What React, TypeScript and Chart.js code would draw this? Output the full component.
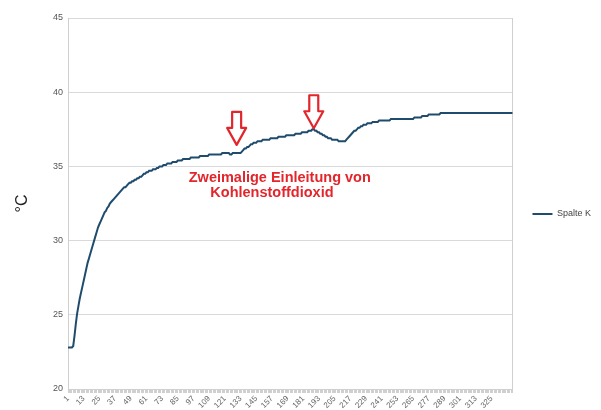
import React, { useEffect, useRef } from "react";
import { Chart, registerables } from "chart.js";

Chart.register(...registerables);

const seriesName = "Spalte K";

// temperature readings (°C), one per measurement index 1..341
const values: number[] = [
  22.8, 22.8, 22.8, 22.8, 22.9, 23.6, 24.4, 25.1, 25.6, 26.1,
  26.5, 26.9, 27.3, 27.7, 28.1, 28.5, 28.8, 29.1, 29.4, 29.7,
  30.0, 30.3, 30.6, 30.9, 31.1, 31.3, 31.5, 31.7, 31.9, 32.0,
  32.2, 32.3, 32.5, 32.6, 32.7, 32.8, 32.9, 33.0, 33.1, 33.2,
  33.3, 33.4, 33.5, 33.6, 33.6, 33.7, 33.8, 33.9, 33.9, 34.0,
  34.0, 34.1, 34.1, 34.2, 34.2, 34.3, 34.3, 34.4, 34.5, 34.5,
  34.6, 34.6, 34.7, 34.7, 34.7, 34.8, 34.8, 34.8, 34.9, 34.9,
  35.0, 35.0, 35.0, 35.1, 35.1, 35.1, 35.2, 35.2, 35.2, 35.2,
  35.3, 35.3, 35.3, 35.3, 35.4, 35.4, 35.4, 35.4, 35.5, 35.5,
  35.5, 35.5, 35.5, 35.5, 35.6, 35.6, 35.6, 35.6, 35.6, 35.6,
  35.6, 35.7, 35.7, 35.7, 35.7, 35.7, 35.7, 35.7, 35.8, 35.8,
  35.8, 35.8, 35.8, 35.8, 35.8, 35.8, 35.8, 35.8, 35.9, 35.9,
  35.9, 35.9, 35.9, 35.9, 35.8, 35.8, 35.9, 35.9, 35.9, 35.9,
  35.9, 35.9, 35.9, 36.0, 36.1, 36.2, 36.2, 36.3, 36.3, 36.4,
  36.5, 36.5, 36.6, 36.6, 36.6, 36.7, 36.7, 36.7, 36.7, 36.8,
  36.8, 36.8, 36.8, 36.8, 36.8, 36.9, 36.9, 36.9, 36.9, 36.9,
  36.9, 37.0, 37.0, 37.0, 37.0, 37.0, 37.0, 37.1, 37.1, 37.1,
  37.1, 37.1, 37.1, 37.1, 37.2, 37.2, 37.2, 37.2, 37.2, 37.3,
  37.3, 37.3, 37.3, 37.3, 37.4, 37.4, 37.4, 37.5, 37.5, 37.4,
  37.4, 37.3, 37.3, 37.2, 37.2, 37.1, 37.1, 37.0, 37.0, 36.9,
  36.9, 36.9, 36.8, 36.8, 36.8, 36.8, 36.8, 36.7, 36.7, 36.7,
  36.7, 36.7, 36.7, 36.8, 36.9, 37.0, 37.1, 37.2, 37.3, 37.4,
  37.4, 37.5, 37.6, 37.6, 37.7, 37.7, 37.8, 37.8, 37.8, 37.9,
  37.9, 37.9, 37.9, 38.0, 38.0, 38.0, 38.0, 38.0, 38.1, 38.1,
  38.1, 38.1, 38.1, 38.1, 38.1, 38.1, 38.1, 38.2, 38.2, 38.2,
  38.2, 38.2, 38.2, 38.2, 38.2, 38.2, 38.2, 38.2, 38.2, 38.2,
  38.2, 38.2, 38.2, 38.2, 38.2, 38.3, 38.3, 38.3, 38.3, 38.3,
  38.3, 38.4, 38.4, 38.4, 38.4, 38.4, 38.5, 38.5, 38.5, 38.5,
  38.5, 38.5, 38.5, 38.5, 38.5, 38.6, 38.6, 38.6, 38.6, 38.6,
  38.6, 38.6, 38.6, 38.6, 38.6, 38.6, 38.6, 38.6, 38.6, 38.6,
  38.6, 38.6, 38.6, 38.6, 38.6, 38.6, 38.6, 38.6, 38.6, 38.6,
  38.6, 38.6, 38.6, 38.6, 38.6, 38.6, 38.6, 38.6, 38.6, 38.6,
  38.6, 38.6, 38.6, 38.6, 38.6, 38.6, 38.6, 38.6, 38.6, 38.6,
  38.6, 38.6, 38.6, 38.6, 38.6, 38.6, 38.6, 38.6, 38.6, 38.6,
  38.6,
];

const categories: string[] = values.map((_, i) => String(i + 1));

const xTickLabels: string[] = [
  "1", "13", "25", "37", "49", "61", "73", "85", "97", "109", "121", "133",
  "145", "157", "169", "181", "193", "205", "217", "229", "241", "253",
  "265", "277", "289", "301", "313", "325",
];

const yMin = 20;
const yMax = 45;
const yStep = 5;
const yTitle = "°C";

// annotation anchors (measurement index, temperature at arrow tip)
const arrowIndex: number[] = [130, 189];
const arrowTipValue: number[] = [36.45, 37.57];
const noteLines: string[] = ["Zweimalige Einleitung von", "Kohlenstoffdioxid"];
const noteIndex: number[] = [163, 157];
const noteValue: number[] = [34.22, 33.2];

const RED = "#e2262c";
const LINE = "#1f4c6d";
const FONT = "'Liberation Sans', Arial, sans-serif";

const annotatePlugin = {
  id: "annotate",
  afterDatasetsDraw(chart: any) {
    const { ctx, scales } = chart;
    const x = scales.x;
    const y = scales.y;
    ctx.save();
    arrowIndex.forEach((idx, k) => {
      const px = x.getPixelForValue(idx - 1);
      const py = y.getPixelForValue(arrowTipValue[k]);
      const hw = 9.5;
      const sw = 4.5;
      const hl = 17;
      const sl = 16;
      ctx.beginPath();
      ctx.moveTo(px, py);
      ctx.lineTo(px - hw, py - hl);
      ctx.lineTo(px - sw, py - hl);
      ctx.lineTo(px - sw, py - hl - sl);
      ctx.lineTo(px + sw, py - hl - sl);
      ctx.lineTo(px + sw, py - hl);
      ctx.lineTo(px + hw, py - hl);
      ctx.closePath();
      ctx.fillStyle = "#ffffff";
      ctx.fill();
      ctx.strokeStyle = RED;
      ctx.lineWidth = 2.2;
      ctx.lineJoin = "round";
      ctx.stroke();
    });
    ctx.fillStyle = RED;
    ctx.font = `bold 14.5px ${FONT}`;
    ctx.textAlign = "center";
    ctx.textBaseline = "middle";
    noteLines.forEach((line, k) => {
      const px = x.getPixelForValue(noteIndex[k] - 1);
      const py = y.getPixelForValue(noteValue[k]);
      ctx.fillText(line, px, py);
    });
    ctx.restore();
  },
};

export default function App() {
  const canvasRef = useRef<HTMLCanvasElement | null>(null);

  useEffect(() => {
    const canvas = canvasRef.current;
    if (!canvas) return;
    const chart = new Chart(canvas, {
      type: "line",
      data: {
        labels: categories,
        datasets: [
          {
            label: seriesName,
            data: values,
            borderColor: LINE,
            backgroundColor: LINE,
            borderWidth: 2,
            pointRadius: 0,
            pointHoverRadius: 0,
            tension: 0,
            fill: false,
          },
        ],
      },
      options: {
        responsive: false,
        animation: false,
        events: [],
        layout: { padding: { top: 18, right: 0, bottom: 0, left: 0 } },
        plugins: {
          tooltip: { enabled: false },
          legend: {
            position: "right",
            labels: {
              usePointStyle: true,
              pointStyle: "line",
              pointStyleWidth: 20,
              padding: 20,
              color: "#444",
              font: { size: 9, family: FONT },
            },
          },
        },
        scales: {
          x: {
            type: "category",
            offset: false,
            afterFit: (scale: any) => {
              scale.height = 21;
            },
            grid: {
              drawOnChartArea: true,
              drawTicks: true,
              tickLength: 4,
              color: (c: any) =>
                c.index === categories.length - 1 ? "#cfcfcf" : "rgba(0,0,0,0)",
              tickColor: "#d0d0d0",
              lineWidth: 1,
            },
            border: { display: true, color: "#cfcfcf" },
            ticks: {
              autoSkip: false,
              minRotation: 45,
              maxRotation: 45,
              padding: 1,
              color: "#666",
              font: { size: 8, family: FONT },
              callback: (_v: any, i: number) =>
                xTickLabels.includes(categories[i]) ? categories[i] : "",
            },
          },
          y: {
            min: yMin,
            max: yMax,
            afterFit: (scale: any) => {
              scale.width = 68;
            },
            grid: { color: "#d9d9d9", drawTicks: false, lineWidth: 1 },
            border: { display: true, color: "#cfcfcf" },
            ticks: {
              stepSize: yStep,
              padding: 5,
              color: "#555",
              font: { size: 9, family: FONT },
            },
            title: {
              display: true,
              text: yTitle,
              color: "#222",
              font: { size: 16, family: FONT },
              padding: { top: 13, bottom: 0 },
            },
          },
        },
      },
      plugins: [annotatePlugin],
    });
    return () => chart.destroy();
  }, []);

  return (
    <div style={{ position: "absolute", left: 0, top: 0, width: 601, height: 410, background: "#fff" }}>
      <canvas ref={canvasRef} width={601} height={410} style={{ display: "block" }} />
    </div>
  );
}
